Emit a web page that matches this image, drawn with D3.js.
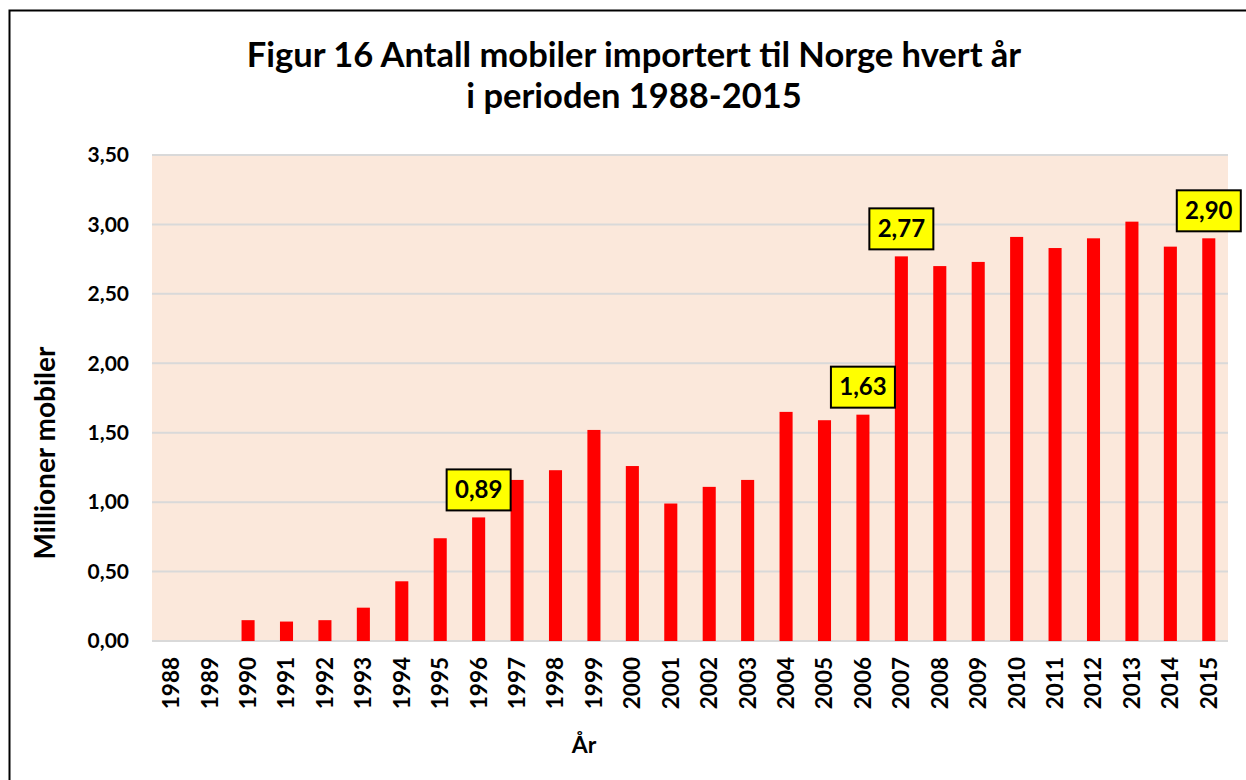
<!DOCTYPE html>
<html>
<head>
<meta charset="utf-8">
<script src="https://cdn.jsdelivr.net/npm/d3@7"></script>
<style>
  body { margin: 0; background: #fff; }
  svg { display: block; font-family: Lato, "Open Sans", sans-serif; }
</style>
</head>
<body>
<div id="chart"></div>
<script>
// data (millions of phones)
const years = ["1988","1989","1990","1991","1992","1993","1994","1995","1996","1997",
  "1998","1999","2000","2001","2002","2003","2004","2005","2006","2007",
  "2008","2009","2010","2011","2012","2013","2014","2015"];
const imports = [0, 0, 0.15, 0.14, 0.15, 0.24, 0.43, 0.74, 0.89, 1.16,
  1.23, 1.52, 1.26, 0.99, 1.11, 1.16, 1.65, 1.59, 1.63, 2.77,
  2.70, 2.73, 2.91, 2.83, 2.90, 3.02, 2.84, 2.90];
const labelledYears = ["1996", "2006", "2007", "2015"];
const yTicks = [0, 0.5, 1, 1.5, 2, 2.5, 3, 3.5];
const titleLines = ["Figur 16 Antall mobiler importert til Norge hvert år", "i perioden 1988-2015"];

const W = 1246, H = 780;
const margin = { top: 155, right: 18, bottom: 139, left: 152 };
const width = W - margin.left - margin.right,
      height = H - margin.top - margin.bottom;

const fmt = v => d3.format(".2f")(v).replace(".", ",");

const svg = d3.select("#chart").append("svg")
    .attr("width", W)
    .attr("height", H);

// outer frame (only top and left edges are visible in the picture)
svg.append("rect")
    .attr("x", 9.5).attr("y", 10.5)
    .attr("width", W + 20).attr("height", H + 20)
    .attr("fill", "none").attr("stroke", "#000").attr("stroke-width", 2);

svg.selectAll("text.title")
    .data(titleLines)
    .enter().append("text")
    .attr("class", "title")
    .attr("x", 634)
    .attr("y", (d, i) => 67 + i * 41)
    .attr("text-anchor", "middle")
    .attr("font-size", 34.5)
    .attr("font-weight", "bold")
    .text(d => d);

const g = svg.append("g")
    .attr("transform", `translate(${margin.left},${margin.top})`);

const x = d3.scaleBand().domain(years).range([0, width]).paddingInner(0.66).paddingOuter(0.33);
const y = d3.scaleLinear().domain([0, 3.5]).range([height, 0]);

g.append("rect")
    .attr("width", width).attr("height", height)
    .attr("fill", "#FBE8DB");

g.selectAll("line.grid")
    .data(yTicks)
    .enter().append("line")
    .attr("class", "grid")
    .attr("x1", 0).attr("x2", width)
    .attr("y1", d => y(d)).attr("y2", d => y(d))
    .attr("stroke", "#D9D9D9").attr("stroke-width", 2);

g.selectAll("rect.bar")
    .data(imports)
    .enter().append("rect")
    .attr("class", "bar")
    .attr("x", (d, i) => x(years[i]))
    .attr("y", d => y(d))
    .attr("width", x.bandwidth())
    .attr("height", d => height - y(d))
    .attr("fill", "#FF0000");

// y axis
const yAxis = g.append("g")
    .call(d3.axisLeft(y).tickValues(yTicks).tickFormat(fmt).tickSize(0).tickPadding(23));
yAxis.select(".domain").remove();
yAxis.selectAll("text")
    .attr("font-size", 21).attr("font-weight", "bold")
    .attr("font-family", "Lato, sans-serif").attr("fill", "#000");

// x axis, labels rotated
const xAxis = g.append("g")
    .attr("transform", `translate(0,${height})`)
    .call(d3.axisBottom(x).tickSize(0));
xAxis.select(".domain").remove();
xAxis.selectAll("text")
    .attr("font-size", 22.5).attr("font-weight", "bold")
    .attr("font-family", "Lato, sans-serif").attr("fill", "#000")
    .attr("transform", "rotate(-90)")
    .attr("text-anchor", "end")
    .attr("x", -16).attr("y", 0).attr("dy", "0.35em");

// value labels in yellow boxes
const lab = g.selectAll("g.lab")
    .data(labelledYears)
    .enter().append("g")
    .attr("class", "lab")
    .attr("transform", d => {
        const v = imports[years.indexOf(d)];
        return `translate(${x(d) + x.bandwidth() / 2},${y(v) - 28})`;
    });
lab.append("rect")
    .attr("x", -32).attr("y", -20)
    .attr("width", 64).attr("height", 41)
    .attr("fill", "#FFFF00").attr("stroke", "#000").attr("stroke-width", 2);
lab.append("text")
    .attr("text-anchor", "middle")
    .attr("dy", "0.36em")
    .attr("font-size", 24).attr("font-weight", "bold")
    .text(d => fmt(imports[years.indexOf(d)]));

// axis titles
svg.append("text")
    .attr("x", 584).attr("y", 753)
    .attr("text-anchor", "middle")
    .attr("font-size", 23).attr("font-weight", "bold")
    .text("År");

svg.append("text")
    .attr("transform", "translate(55,453) rotate(-90)")
    .attr("text-anchor", "middle")
    .attr("font-size", 28).attr("font-weight", "bold")
    .text("Millioner mobiler");
</script>
</body>
</html>
